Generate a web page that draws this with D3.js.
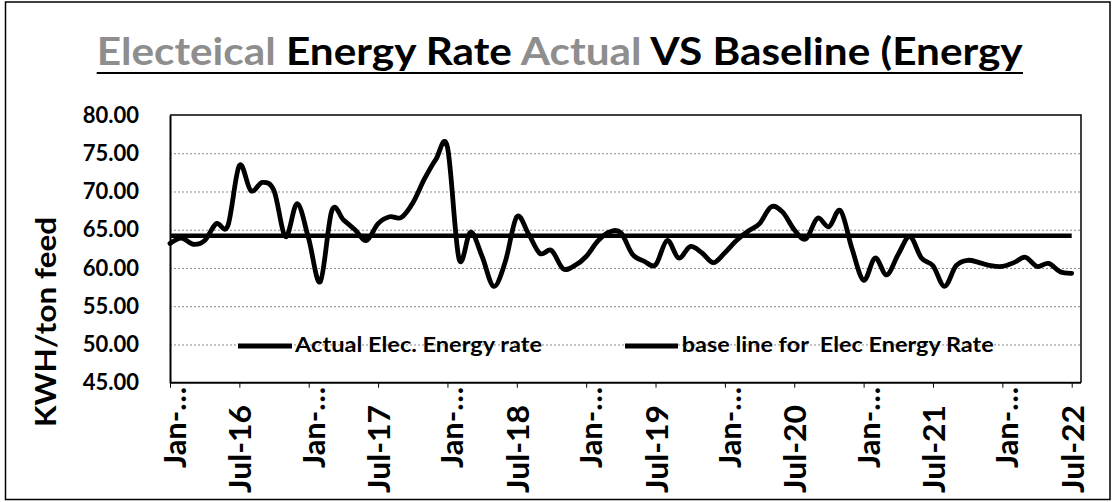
<!DOCTYPE html>
<html>
<head>
<meta charset="utf-8">
<script src="https://cdn.jsdelivr.net/npm/d3@7"></script>
<style>
  body { margin: 0; background: #fff; }
  text { font-family: Lato, "Open Sans", sans-serif; font-weight: 700; fill: #000; white-space: pre; }
</style>
</head>
<body>
<svg id="chart" width="1112" height="502"></svg>
<script>
// ---- data ----
const months = [
  "Jan-16","Feb-16","Mar-16","Apr-16","May-16","Jun-16","Jul-16","Aug-16","Sep-16","Oct-16","Nov-16","Dec-16",
  "Jan-17","Feb-17","Mar-17","Apr-17","May-17","Jun-17","Jul-17","Aug-17","Sep-17","Oct-17","Nov-17","Dec-17",
  "Jan-18","Feb-18","Mar-18","Apr-18","May-18","Jun-18","Jul-18","Aug-18","Sep-18","Oct-18","Nov-18","Dec-18",
  "Jan-19","Feb-19","Mar-19","Apr-19","May-19","Jun-19","Jul-19","Aug-19","Sep-19","Oct-19","Nov-19","Dec-19",
  "Jan-20","Feb-20","Mar-20","Apr-20","May-20","Jun-20","Jul-20","Aug-20","Sep-20","Oct-20","Nov-20","Dec-20",
  "Jan-21","Feb-21","Mar-21","Apr-21","May-21","Jun-21","Jul-21","Aug-21","Sep-21","Oct-21","Nov-21","Dec-21",
  "Jan-22","Feb-22","Mar-22","Apr-22","May-22","Jun-22","Jul-22"
];
const actualRate = [
  63.2, 63.9, 63.1, 63.6, 65.8, 65.5, 73.4, 70.1, 71.2, 70.1, 64.1, 68.4,
  63.8, 58.2, 67.5, 66.3, 65.0, 63.6, 65.8, 66.7, 66.6, 68.5, 71.6, 74.2,
  75.8, 61.2, 64.7, 61.5, 57.6, 60.8, 66.7, 64.5, 61.9, 62.3, 59.9, 60.3,
  61.5, 63.5, 64.7, 64.6, 61.8, 60.9, 60.4, 63.6, 61.3, 62.8, 62.0, 60.7,
  62.0, 63.6, 64.8, 65.8, 68.0, 67.3, 65.0, 63.8, 66.5, 65.4, 67.5, 62.5,
  58.4, 61.3, 59.1, 61.8, 64.1, 61.3, 60.3, 57.6, 60.3, 61.0, 60.7, 60.3,
  60.2, 60.7, 61.4, 60.2, 60.6, 59.5, 59.3
];
const baselineRate = 64.2;
const yTicks = [45, 50, 55, 60, 65, 70, 75, 80];
const gridValues = [50, 55, 60, 65, 70, 75];
const xTickMonths = ["Jan-16","Jul-16","Jan-17","Jul-17","Jan-18","Jul-18","Jan-19","Jul-19",
                     "Jan-20","Jul-20","Jan-21","Jul-21","Jan-22","Jul-22"];
const xTickLabels = ["Jan-\u2026","Jul-16","Jan-\u2026","Jul-17","Jan-\u2026","Jul-18","Jan-\u2026","Jul-19",
                     "Jan-\u2026","Jul-20","Jan-\u2026","Jul-21","Jan-\u2026","Jul-22"];
const seriesNames = ["Actual Elec. Energy rate", "base line for  Elec Energy Rate"];
const titleParts = [
  {t: "Electeical", faded: true}, {t: " Energy Rate ", faded: false},
  {t: "Actual", faded: true}, {t: " VS Baseline (Energy", faded: false}
];

// ---- layout ----
const svg = d3.select("#chart");
const plot = {left: 170, right: 1081, top: 115, bottom: 382.7, lastX: 1071.7};

const x = d3.scalePoint().domain(months).range([plot.left, plot.lastX]).padding(0);
const y = d3.scaleLinear().domain([45, 80]).range([plot.bottom, plot.top]);

// outer border
svg.append("rect").attr("x", 5.5).attr("y", 2).attr("width", 1104.5).attr("height", 497.5)
  .attr("fill", "#fff").attr("stroke", "#000").attr("stroke-width", 1.5);

// title
const title = svg.append("text").attr("x", 96.7).attr("y", 65)
  .attr("font-size", 38).attr("textLength", 926).attr("lengthAdjust", "spacingAndGlyphs");
titleParts.forEach(p => title.append("tspan").text(p.t).style("fill", p.faded ? "#8e8e8e" : "#000"));
svg.append("line").attr("x1", 96.7).attr("x2", 1023).attr("y1", 73).attr("y2", 73)
  .attr("stroke", "#000").attr("stroke-width", 2);

// gridlines
const grid = svg.append("g").attr("transform", `translate(${plot.left},0)`)
  .call(d3.axisLeft(y).tickValues(gridValues).tickSize(-(plot.right - plot.left)).tickFormat(""));
grid.select(".domain").remove();
grid.selectAll(".tick line").attr("stroke", "#8a8a8a").attr("stroke-width", 1).attr("stroke-dasharray", "2,2");

// plot frame (top & right)
svg.append("path")
  .attr("d", `M${plot.left},${plot.top}H${plot.right}V${plot.bottom}`)
  .attr("fill", "none").attr("stroke", "#000").attr("stroke-width", 1.5);

// y axis
const yAxis = svg.append("g").attr("transform", `translate(${plot.left},0)`)
  .call(d3.axisLeft(y).tickValues(yTicks).tickSize(0).tickPadding(31).tickFormat(d3.format(".2f")));
yAxis.select(".domain").attr("stroke", "#000").attr("stroke-width", 2);
yAxis.selectAll(".tick text").attr("font-size", 22).attr("fill", "#000")
  .style("font-family", "Lato, sans-serif").style("font-weight", 700);

// y axis title
svg.append("text").attr("transform", "translate(45,322) rotate(-90)")
  .attr("text-anchor", "middle").attr("dominant-baseline", "central")
  .attr("font-size", 28).attr("textLength", 210).attr("lengthAdjust", "spacingAndGlyphs")
  .text("KWH/ton feed");

// x axis
const xAxis = svg.append("g").attr("transform", `translate(0,${plot.bottom})`)
  .call(d3.axisBottom(x).tickValues(xTickMonths).tickSize(5).tickFormat(""));
xAxis.select(".domain").attr("d", `M${plot.left},0H${plot.right}`).attr("stroke", "#000").attr("stroke-width", 2);
xAxis.selectAll(".tick line").attr("stroke", "#000").attr("stroke-width", 1);

svg.append("g").selectAll("text").data(xTickMonths).join("text")
  .attr("transform", (d, i) => {
    const isJan = d.startsWith("Jan");
    const xx = x(d) + (isJan ? 4 : 0);
    const yy = isJan ? 387 : 405;
    return `translate(${xx},${yy}) rotate(-90)`;
  })
  .attr("text-anchor", "end").attr("dominant-baseline", "central")
  .attr("font-size", 30)
  .attr("textLength", d => d.startsWith("Jan") ? 81 : 88)
  .attr("lengthAdjust", "spacingAndGlyphs")
  .text((d, i) => xTickLabels[i]);

// baseline series
svg.append("line")
  .attr("x1", x(months[0])).attr("x2", x(months[months.length - 1]))
  .attr("y1", y(baselineRate)).attr("y2", y(baselineRate))
  .attr("stroke", "#000").attr("stroke-width", 4.5);

// actual series
const line = d3.line().x((d, i) => x(months[i])).y(d => y(d)).curve(d3.curveCardinal.tension(0));
svg.append("path").datum(actualRate).attr("d", line)
  .attr("fill", "none").attr("stroke", "#000").attr("stroke-width", 4.8)
  .attr("stroke-linejoin", "round").attr("stroke-linecap", "round");

// legend
const legend = [
  {name: seriesNames[0], x1: 238, x2: 292, tx: 295, len: 247},
  {name: seriesNames[1], x1: 625, x2: 678, tx: 681.7, len: 312}
];
const lg = svg.append("g");
legend.forEach(l => {
  lg.append("line").attr("x1", l.x1).attr("x2", l.x2).attr("y1", 346).attr("y2", 346)
    .attr("stroke", "#000").attr("stroke-width", 5);
  lg.append("text").attr("x", l.tx).attr("y", 352).attr("font-size", 20)
    .attr("textLength", l.len).attr("lengthAdjust", "spacingAndGlyphs").text(l.name);
});
</script>
</body>
</html>
